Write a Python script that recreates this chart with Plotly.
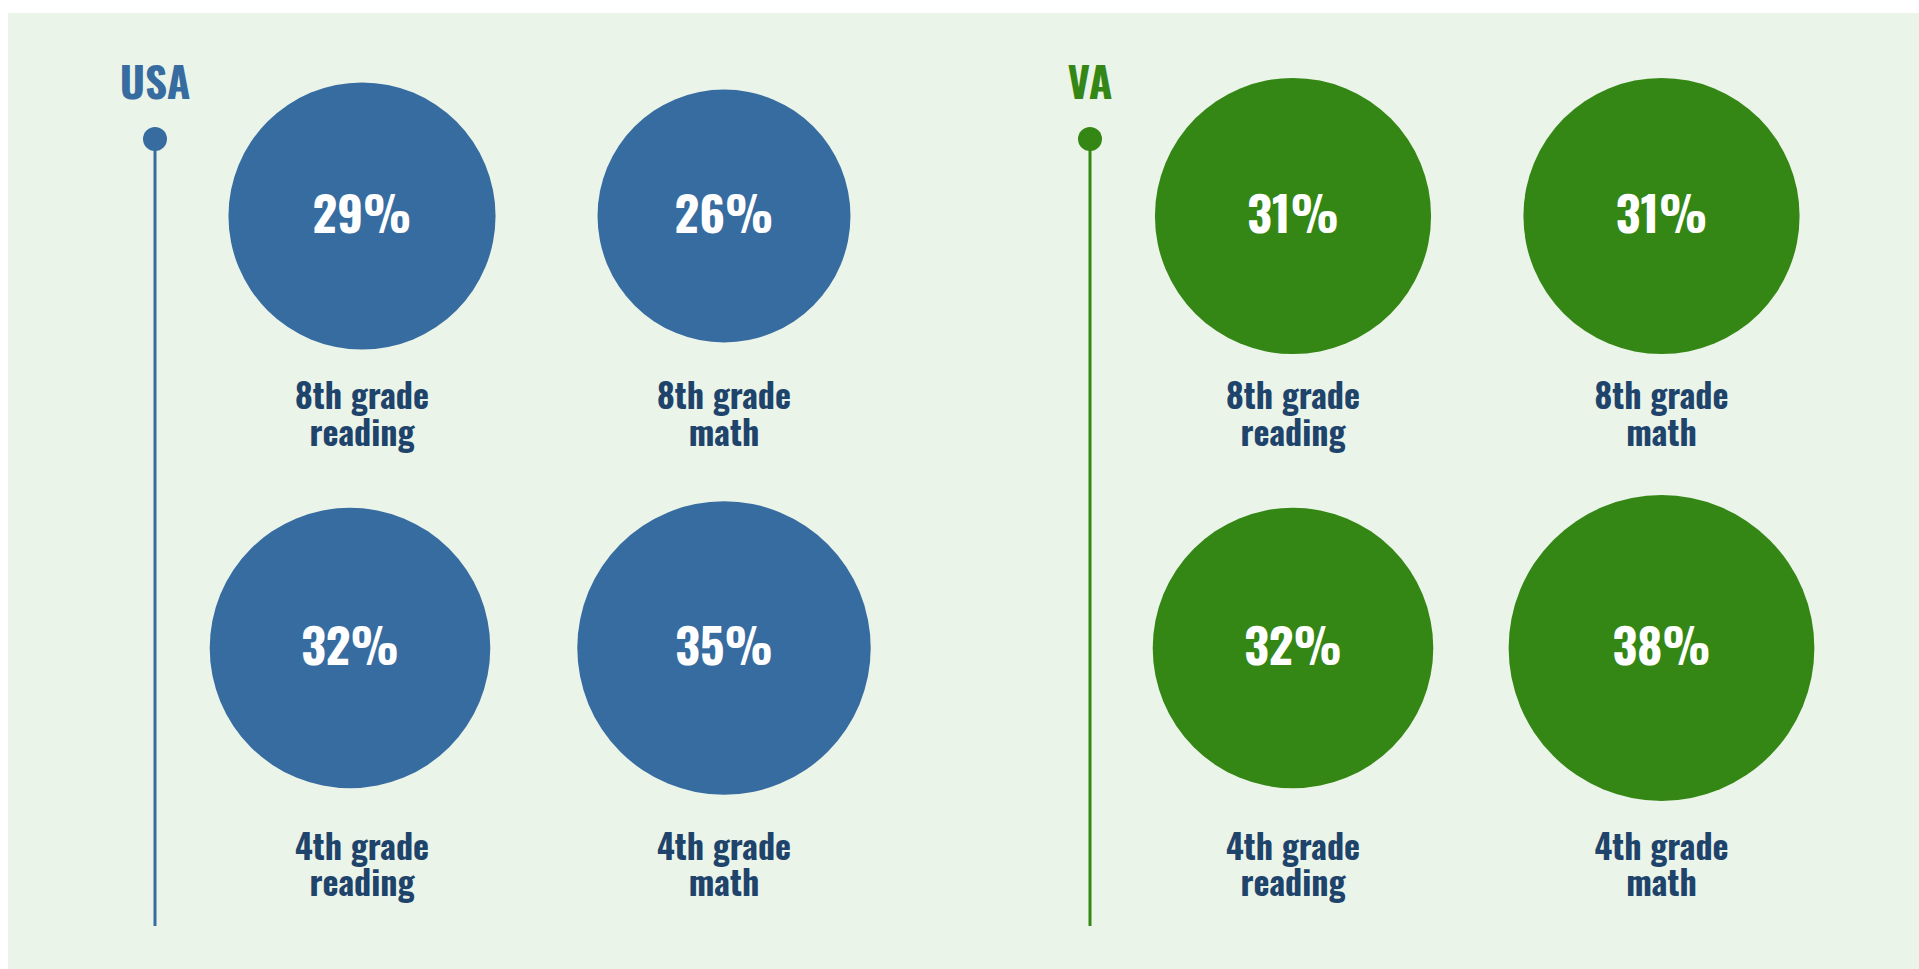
import plotly.graph_objects as go

# ---- data ----
regions = ["USA", "VA"]
grades = ["8th grade", "8th grade", "4th grade", "4th grade"]
subjects = ["reading", "math", "reading", "math"]
usa_values = [29, 26, 32, 35]
va_values = [31, 31, 32, 38]

# ---- layout (pixel positions) ----
W, H = 1919, 969
PANEL_L, PANEL_T = 8, 13
region_colors = {"USA": "#376ca0", "VA": "#348714"}
label_color = "#1f446b"
bg_color = "#ebf4e9"
FONT = "Oswald, 'Liberation Sans Narrow', 'Arial Narrow', 'DejaVu Sans Condensed', sans-serif"

cell_x = {"USA": [362, 724, 350, 724], "VA": [1293, 1661.5, 1293, 1661.5]}
label_x = {"USA": [362, 724, 362, 724], "VA": [1293, 1661.5, 1293, 1661.5]}
cell_y = [216, 216, 648, 648]
TEXT_SHIFT = 5
label_y1 = [400, 400, 851, 851]
label_y2 = [437, 437, 887.5, 887.5]
title_x = {"USA": 155, "VA": 1090}
title_y = 88
line_top, line_bottom = 139, 926
PX_PER_SQRT = 24.8  # circle radius = PX_PER_SQRT * sqrt(value)

values = {"USA": usa_values, "VA": va_values}

fig = go.Figure()
for r in regions:
    col = region_colors[r]
    # timeline line + dot
    fig.add_trace(go.Scatter(
        x=[title_x[r], title_x[r]], y=[line_top, line_bottom],
        mode="lines", line=dict(color=col, width=3),
        hoverinfo="skip", showlegend=False))
    fig.add_trace(go.Scatter(
        x=[title_x[r]], y=[line_top], mode="markers",
        marker=dict(color=col, size=24, line=dict(width=0)),
        hoverinfo="skip", showlegend=False))
    # region title
    fig.add_trace(go.Scatter(
        x=[title_x[r]], y=[title_y], mode="text", text=[r],
        textposition="middle center",
        textfont=dict(family=FONT, size=43, color=col, weight="bold"),
        hoverinfo="skip", showlegend=False))
    # bubbles
    v = values[r]
    fig.add_trace(go.Scatter(
        x=cell_x[r], y=cell_y, mode="markers",
        marker=dict(color=col, size=v, sizemode="area",
                    sizeref=1 / (2 * PX_PER_SQRT ** 2), line=dict(width=0),
                    opacity=1),
        customdata=[f"{g} {s}: {val}%" for g, s, val in zip(grades, subjects, v)],
        hovertemplate=r + " %{customdata}<extra></extra>",
        showlegend=False))
    # value labels inside bubbles
    fig.add_trace(go.Scatter(
        x=cell_x[r], y=[y + TEXT_SHIFT for y in cell_y], mode="text",
        text=[f"{val}%" for val in v],
        textposition="middle center",
        textfont=dict(family=FONT, size=48, color="white", weight="bold"),
        hoverinfo="skip", showlegend=False))
    # category labels (two lines)
    fig.add_trace(go.Scatter(
        x=label_x[r], y=label_y1, mode="text", text=grades,
        textposition="middle center",
        textfont=dict(family=FONT, size=34, color=label_color, weight="bold"),
        hoverinfo="skip", showlegend=False))
    fig.add_trace(go.Scatter(
        x=label_x[r], y=label_y2, mode="text", text=subjects,
        textposition="middle center",
        textfont=dict(family=FONT, size=34, color=label_color, weight="bold"),
        hoverinfo="skip", showlegend=False))

fig.update_layout(
    width=W, height=H,
    margin=dict(l=PANEL_L, t=PANEL_T, r=0, b=0, pad=0),
    paper_bgcolor="white", plot_bgcolor=bg_color,
    xaxis=dict(range=[PANEL_L, W], visible=False, fixedrange=True),
    yaxis=dict(range=[H, PANEL_T], visible=False, fixedrange=True),
)
fig.write_html("out.html", config={"displayModeBar": False},
               post_script="document.body.style.margin='0';document.body.style.overflow='hidden';")
